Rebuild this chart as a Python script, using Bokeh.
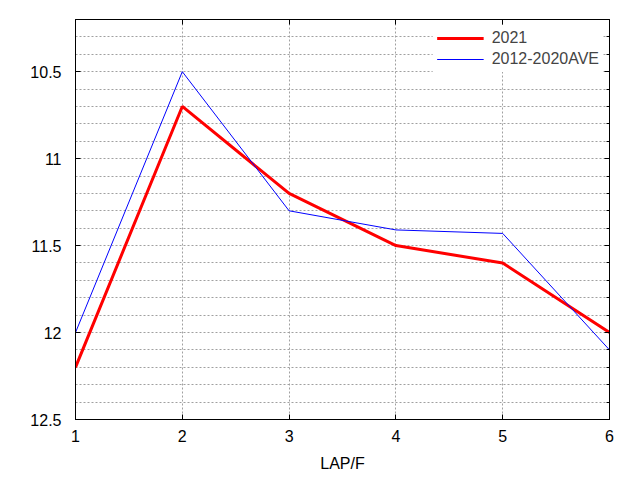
import numpy as np
from bokeh.plotting import figure
from bokeh.models import Range1d, FixedTicker, LinearAxis, Legend, LegendItem, CustomJSTickFormatter
from bokeh.embed import file_html
from bokeh.resources import INLINE

laps = [1, 2, 3, 4, 5, 6]
y2021 = [12.2, 10.7, 11.2, 11.5, 11.6, 12.0]
yave = [12.0, 10.5, 11.3, 11.41, 11.43, 12.1]
y_major = [10.5, 11.0, 11.5, 12.0, 12.5]
y_minor = [round(v, 1) for v in np.arange(10.3, 12.5, 0.1) if round(v, 1) not in y_major]
x_major = [1, 2, 3, 4, 5, 6]
FONT = "Liberation Sans"

p = figure(output_backend="svg", toolbar_location=None,
           frame_width=534, frame_height=400,
           min_border_left=75, min_border_top=19, min_border_right=31, min_border_bottom=53,
           x_range=Range1d(1, 6), y_range=Range1d(12.5, 10.2),
           x_axis_label="LAP/F")

p.background_fill_color = "white"
p.border_fill_color = "white"
p.outline_line_color = "black"
p.outline_line_width = 1

p.xaxis.ticker = FixedTicker(ticks=x_major)
p.yaxis.ticker = FixedTicker(ticks=y_major, minor_ticks=y_minor)
p.xaxis.major_label_overrides = {v: str(v) for v in x_major}
p.yaxis.major_label_overrides = {10.5: "10.5", 11.0: "11", 11.5: "11.5", 12.0: "12", 12.5: "12.5"}

for ax in [p.xaxis[0], p.yaxis[0]]:
    ax.axis_line_color = "black"
    ax.major_tick_in = 5
    ax.major_tick_out = 0
    ax.minor_tick_in = 0
    ax.minor_tick_out = 0
    ax.major_tick_line_color = "black"
    ax.major_label_text_font = FONT
    ax.major_label_text_font_size = "16px"
    ax.major_label_text_color = "black"
    ax.axis_label_text_font = FONT
    ax.axis_label_text_font_size = "16px"
    ax.axis_label_text_font_style = "normal"
    ax.axis_label_text_color = "black"
p.yaxis.major_label_standoff = 14
p.xaxis.major_label_standoff = 10
p.xaxis.axis_label_standoff = 10

blank = CustomJSTickFormatter(code="return '';")
right = LinearAxis(ticker=FixedTicker(ticks=y_major, minor_ticks=y_minor),
                   formatter=blank, major_label_standoff=0,
                   major_tick_in=5, major_tick_out=0,
                   minor_tick_in=3, minor_tick_out=0, axis_line_color="black")
top = LinearAxis(ticker=FixedTicker(ticks=x_major),
                 formatter=CustomJSTickFormatter(code="return '';"), major_label_standoff=0,
                 major_tick_in=5, major_tick_out=0,
                 minor_tick_in=0, minor_tick_out=0, axis_line_color="black")
p.add_layout(right, "right")
p.add_layout(top, "above")

p.xgrid.grid_line_color = "#a0a0a0"
p.xgrid.grid_line_dash = "2 2"
p.ygrid.grid_line_color = "#a0a0a0"
p.ygrid.grid_line_dash = "2 2"
p.ygrid.minor_grid_line_color = "#a0a0a0"
p.ygrid.minor_grid_line_dash = "2 2"

r1 = p.line(laps, y2021, line_color="#ff0000", line_width=3)
r2 = p.line(laps, yave, line_color="#0000ff", line_width=1)

legend = Legend(items=[LegendItem(label="2021", renderers=[r1]),
                       LegendItem(label="2012-2020AVE", renderers=[r2])],
                location="top_right")
legend.label_text_font = FONT
legend.label_text_font_size = "16px"
legend.glyph_width = 47
legend.glyph_height = 16
legend.label_height = 16
legend.label_standoff = 8
legend.spacing = 3
legend.padding = 4
legend.margin = 6
legend.border_line_alpha = 0
legend.background_fill_color = "white"
legend.background_fill_alpha = 1
p.add_layout(legend, "center")

open("out.html", "w").write(file_html(p, INLINE))
